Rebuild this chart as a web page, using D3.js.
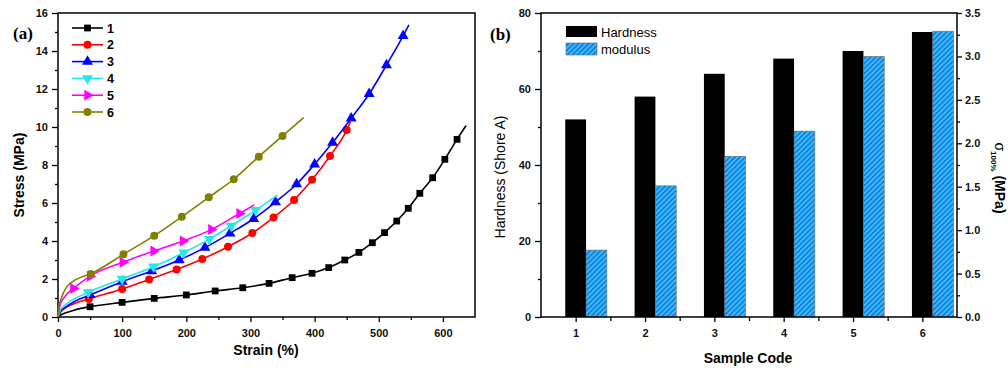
<!DOCTYPE html>
<html>
<head>
<script src="https://d3js.org/d3.v7.min.js"></script>
<style>
  body { margin: 0; background: #fff; }
  text { font-family: "Liberation Sans", Arial, sans-serif; }
</style>
</head>
<body>
<svg id="chart" width="1008" height="370"></svg>
<script>
// ---- panel (a): stress-strain curves, [strain %, stress MPa]
const curve1 = [[0,0],[5,0.12],[12,0.22],[25,0.36],[50,0.54],[100,0.77],[150,0.98],[200,1.16],[245,1.37],[288,1.54],[329,1.77],[365,2.07],[396,2.3],[422,2.6],[447,3.0],[469,3.4],[490,3.91],[509,4.44],[528,5.05],[546,5.72],[564,6.51],[584,7.33],[603,8.3],[622,9.35],[636,10.07]]
const curve2 = [[0,0],[4,0.25],[10,0.45],[25,0.7],[48,0.95],[100,1.47],[142,1.98],[185,2.5],[225,3.05],[265,3.7],[303,4.42],[336,5.24],[368,6.16],[396,7.22],[424,8.47],[450,9.84],[456,10.3]]
const curve3 = [[0,0],[4,0.3],[11,0.5],[25,0.8],[50,1.16],[100,1.86],[146,2.42],[189,3.0],[229,3.65],[268,4.4],[305,5.17],[339,6.05],[372,7.0],[400,8.04],[428,9.18],[457,10.46],[485,11.74],[512,13.26],[538,14.8],[547,15.37]]
const curve4 = [[0,0],[4,0.38],[11,0.63],[25,0.95],[47,1.3],[100,2.0],[149,2.65],[196,3.39],[236,4.1],[270,4.8],[308,5.62],[342,6.42]]
const curve5 = [[0,0],[3,0.6],[8,0.95],[15,1.25],[24,1.5],[50,2.15],[101,2.88],[149,3.47],[195,4.0],[239,4.6],[283,5.45],[306,5.9]]
const curve6 = [[0,0],[2,0.6],[6,1.07],[14,1.6],[27,1.95],[51,2.27],[102,3.3],[150,4.28],[193,5.28],[235,6.3],[274,7.25],[313,8.44],[350,9.53],[383,10.49]]
const curves = [curve1, curve2, curve3, curve4, curve5, curve6]
const seriesNames = ["1", "2", "3", "4", "5", "6"]
const markFrom = [40, 40, 40, 40, 20, 40]   // first strain that carries a marker
const strainTicks = [0, 100, 200, 300, 400, 500, 600]
const stressTicks = [0, 2, 4, 6, 8, 10, 12, 14, 16]

// ---- panel (b): hardness and modulus per sample
const samples = [1, 2, 3, 4, 5, 6]
const hardness = [52, 58, 64, 68, 70, 75]
const modulus = [0.77, 1.51, 1.85, 2.14, 3.0, 3.29]
const hardTicks = [0, 20, 40, 60, 80]
const modTicks = [0, 0.5, 1, 1.5, 2, 2.5, 3, 3.5]

const colors = ["#000000", "#ff0000", "#0000ff", "#22e8e8", "#ff00ff", "#808000"]
const shapes = ["square", "circle", "up", "down", "right", "circle"]

const svg = d3.select("#chart")

const defs = svg.append("defs")
const pat = defs.append("pattern")
    .attr("id", "hatch")
    .attr("patternUnits", "userSpaceOnUse")
    .attr("width", 3.6).attr("height", 3.6)
    .attr("patternTransform", "rotate(45)")
pat.append("rect").attr("width", 3.6).attr("height", 3.6).attr("fill", "#2cc4ff")
pat.append("line").attr("x1", 0.8).attr("y1", 0).attr("x2", 0.8).attr("y2", 3.6)
    .attr("stroke", "#1a3cc0").attr("stroke-width", 1.0)

// ================= panel (a)
const xA = d3.scaleLinear([0, 650], [58, 475])
const yA = d3.scaleLinear([0, 16], [317, 13])

function styleAxis(g) {
    g.select(".domain").remove()
    g.selectAll("line").attr("stroke", "#000").attr("stroke-width", 1.3)
    g.selectAll("text").attr("font-size", 11).attr("font-weight", "bold").attr("fill", "#111")
}

// minor ticks
svg.append("g").attr("transform", "translate(0,317)")
    .call(d3.axisBottom(xA).tickValues(d3.range(50, 650, 100)).tickSize(3).tickFormat(""))
    .call(styleAxis)
svg.append("g").attr("transform", "translate(58,0)")
    .call(d3.axisLeft(yA).tickValues(d3.range(1, 16, 2)).tickSize(3).tickFormat(""))
    .call(styleAxis)
// major ticks
svg.append("g").attr("transform", "translate(0,317)")
    .call(d3.axisBottom(xA).tickValues(strainTicks).tickSize(5).tickPadding(7))
    .call(styleAxis)
svg.append("g").attr("transform", "translate(58,0)")
    .call(d3.axisLeft(yA).tickValues(stressTicks).tickSize(6).tickPadding(4))
    .call(styleAxis)

svg.append("rect").attr("x", 58).attr("y", 13).attr("width", 417).attr("height", 304)
    .attr("fill", "none").attr("stroke", "#000").attr("stroke-width", 1.5)

const line = d3.line().x(d => xA(d[0])).y(d => yA(d[1])).curve(d3.curveMonotoneX)

function markerPath(shape) {
    if (shape === "square") return d3.symbol(d3.symbolSquare, 46)()
    if (shape === "circle") return d3.symbol(d3.symbolCircle, 50)()
    return d3.symbol(d3.symbolTriangle, 52)()
}
function markerRot(shape) {
    if (shape === "down") return 180
    if (shape === "right") return 90
    return 0
}

// draw series in order so later ones sit on top
curves.forEach((c, i) => {
    const g = svg.append("g")
    g.append("path").attr("d", line(c)).attr("fill", "none")
        .attr("stroke", colors[i]).attr("stroke-width", 1.6)
    const pts = c.filter((d, j) => d[0] >= markFrom[i] && j < c.length - 1)
    g.selectAll("path.mk").data(pts).enter().append("path")
        .attr("class", "mk")
        .attr("d", markerPath(shapes[i]))
        .attr("transform", d => `translate(${xA(d[0])},${yA(d[1])}) rotate(${markerRot(shapes[i])})`)
        .attr("fill", colors[i])
})

// legend (a)
const legA = svg.append("g")
seriesNames.forEach((n, i) => {
    const y = 28 + i * 16.8
    legA.append("line").attr("x1", 72).attr("x2", 103).attr("y1", y).attr("y2", y)
        .attr("stroke", colors[i]).attr("stroke-width", 1.6)
    legA.append("path").attr("d", markerPath(shapes[i]))
        .attr("transform", `translate(87.5,${y}) rotate(${markerRot(shapes[i])})`)
        .attr("fill", colors[i])
    legA.append("text").attr("x", 107).attr("y", y + 4.5)
        .attr("font-size", 12.5).attr("font-weight", "bold").text(n)
})

svg.append("text").attr("x", 13).attr("y", 39)
    .attr("style", "font-family:'Liberation Serif',serif;font-size:17px;font-weight:bold").text("(a)")

svg.append("text").attr("transform", "translate(24,175) rotate(-90)")
    .attr("text-anchor", "middle").attr("font-size", 14).attr("font-weight", "bold").text("Stress (MPa)")
svg.append("text").attr("x", 266).attr("y", 355)
    .attr("text-anchor", "middle").attr("font-size", 14).attr("font-weight", "bold").text("Strain (%)")

// ================= panel (b)
const xB = d3.scaleLinear([0.5, 6.5], [541, 957])
const yB = d3.scaleLinear([0, 80], [317, 13])
const yB2 = d3.scaleLinear([0, 3.5], [317, 13])

svg.append("g").selectAll("rect").data(samples).enter().append("rect")
    .attr("x", d => xB(d - 0.15)).attr("width", d => xB(d + 0.15) - xB(d - 0.15))
    .attr("y", (d, i) => yB(hardness[i])).attr("height", (d, i) => yB(0) - yB(hardness[i]))
    .attr("fill", "#000")

svg.append("g").selectAll("rect").data(samples).enter().append("rect")
    .attr("x", d => xB(d + 0.15)).attr("width", d => xB(d + 0.45) - xB(d + 0.15))
    .attr("y", (d, i) => yB2(modulus[i])).attr("height", (d, i) => yB2(0) - yB2(modulus[i]))
    .attr("fill", "url(#hatch)").attr("stroke", "#666").attr("stroke-width", 0.6)

svg.append("g").attr("transform", "translate(0,317)")
    .call(d3.axisBottom(xB).tickValues(d3.range(1.5, 6.5, 1)).tickSize(4).tickFormat(""))
    .call(styleAxis)
svg.append("g").attr("transform", "translate(0,317)")
    .call(d3.axisBottom(xB).tickValues(samples).tickSize(5).tickPadding(7).tickFormat(d3.format("d")))
    .call(styleAxis)
svg.append("g").attr("transform", "translate(541,0)")
    .call(d3.axisLeft(yB).tickValues(d3.range(10, 80, 20)).tickSize(3).tickFormat(""))
    .call(styleAxis)
svg.append("g").attr("transform", "translate(541,0)")
    .call(d3.axisLeft(yB).tickValues(hardTicks).tickSize(6).tickPadding(4))
    .call(styleAxis)
svg.append("g").attr("transform", "translate(957,0)")
    .call(d3.axisRight(yB2).tickValues(d3.range(0.25, 3.5, 0.5)).tickSize(3).tickFormat(""))
    .call(styleAxis)
svg.append("g").attr("transform", "translate(957,0)")
    .call(d3.axisRight(yB2).tickValues(modTicks).tickSize(5).tickPadding(3).tickFormat(d3.format(".1f")))
    .call(styleAxis)

svg.append("rect").attr("x", 541).attr("y", 13).attr("width", 416).attr("height", 304)
    .attr("fill", "none").attr("stroke", "#000").attr("stroke-width", 1.5)

// legend (b)
svg.append("rect").attr("x", 566).attr("y", 26).attr("width", 31).attr("height", 11).attr("fill", "#000")
svg.append("rect").attr("x", 566).attr("y", 43).attr("width", 31).attr("height", 12)
    .attr("fill", "url(#hatch)").attr("stroke", "#666").attr("stroke-width", 0.6)
svg.append("text").attr("x", 601).attr("y", 36.5).attr("font-size", 13).text("Hardness")
svg.append("text").attr("x", 601).attr("y", 53.5).attr("font-size", 13).text("modulus")

svg.append("text").attr("x", 490).attr("y", 40)
    .attr("style", "font-family:'Liberation Serif',serif;font-size:17px;font-weight:bold").text("(b)")

svg.append("text").attr("transform", "translate(505,177) rotate(-90)")
    .attr("text-anchor", "middle").attr("font-size", 14).text("Hardness (Shore A)")
svg.append("text").attr("x", 748).attr("y", 363)
    .attr("text-anchor", "middle").attr("font-size", 14).attr("font-weight", "bold").text("Sample Code")

const sig = svg.append("text").attr("transform", "translate(995,178) rotate(90)")
    .attr("text-anchor", "middle").attr("font-size", 14).attr("font-weight", "bold")
sig.append("tspan").attr("font-weight", "normal").text("σ")
sig.append("tspan").attr("font-size", 8).attr("dy", 4).text("100%")
sig.append("tspan").attr("dy", -4).text(" (MPa)")
</script>
</body>
</html>
